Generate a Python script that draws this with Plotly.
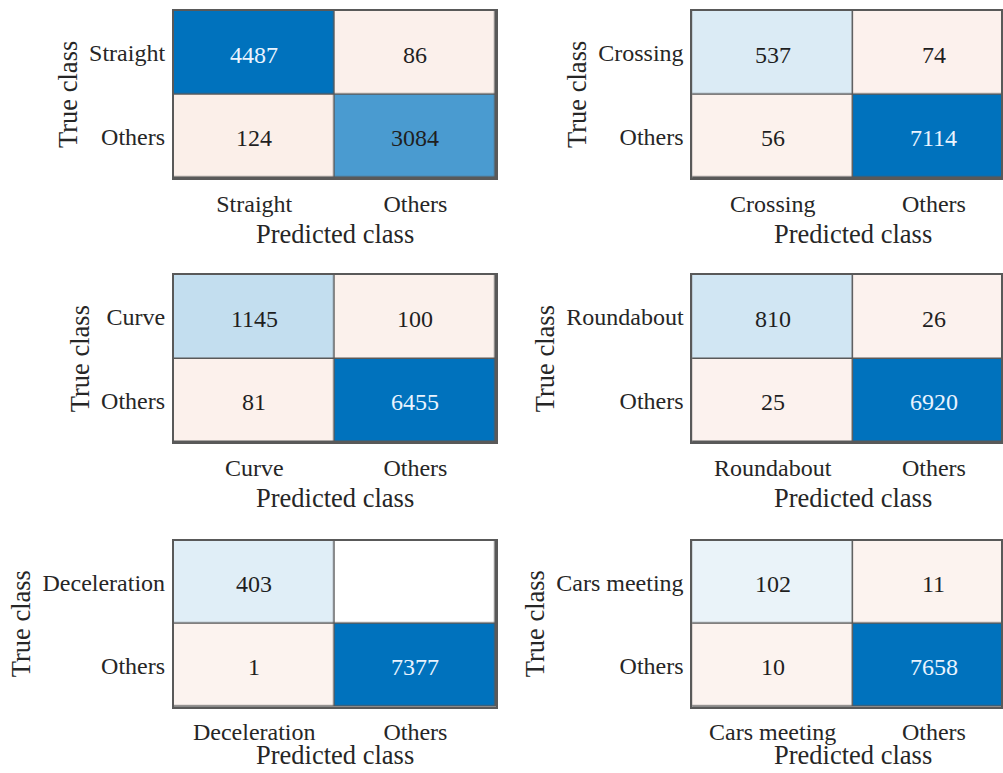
import plotly.graph_objects as go

# ---- data ----
classes = ["Straight", "Crossing", "Curve", "Roundabout", "Deceleration", "Cars meeting"]
other_label = "Others"
true_pos = [4487, 537, 1145, 810, 403, 102]      # true class, predicted class
false_neg = [86, 74, 100, 26, 0, 11]             # true class, predicted Others
false_pos = [124, 56, 81, 25, 1, 10]             # true Others, predicted class
true_neg = [3084, 7114, 6455, 6920, 7377, 7658]  # true Others, predicted Others

# ---- style ----
W, H = 1003, 773
FONT = "Liberation Serif, Times New Roman, serif"
TXT = "#262626"
BLUE = (0, 114, 189)
ORANGE = (217, 83, 25)
BORDER = "#595959"
MINF = 0.07


def blend(c, f):
    r, g, b = (round(255 * (1 - f) + ci * f) for ci in c)
    return f"rgb({r},{g},{b})"


def scale(c):
    return [[0, "white"], [1e-6, blend(c, MINF)], [1, blend(c, 1.0)]]


# panel geometry (pixels)
col_x = [(174, 497), (693.5, 1003)]
row_y = [(10.7, 178), (275, 442.3), (540.7, 706.7)]
cell_w = 161.5

fig = go.Figure()
layout = dict(
    width=W, height=H, margin=dict(l=0, r=0, t=0, b=0),
    paper_bgcolor="white", plot_bgcolor=BORDER, showlegend=False,
    font=dict(family=FONT, color=TXT),
)
annotations = []

for i, cls in enumerate(classes):
    r, c = divmod(i, 2)
    ax = "" if i == 0 else str(i + 1)
    xa, ya = "x" + ax, "y" + ax
    vals = [[true_pos[i], false_neg[i]], [false_pos[i], true_neg[i]]]
    vmax = max(max(row) for row in vals)
    diag = [[vals[0][0], None], [None, vals[1][1]]]
    off = [[None, vals[0][1]], [vals[1][0], None]]
    for z, col in ((diag, BLUE), (off, ORANGE)):
        fig.add_trace(go.Heatmap(
            z=z, x=[0, 1], y=[0, 1], colorscale=scale(col), zmin=0, zmax=vmax,
            showscale=False, xgap=1.5, ygap=1.5, hoverinfo="skip",
            xaxis=xa, yaxis=ya))
    # cell counts (omitted for empty cells)
    for rr in range(2):
        for cc in range(2):
            v = vals[rr][cc]
            if v == 0:
                continue
            colr = "#EAF4FF" if (rr == cc and v / vmax > 0.8) else "#1f1f1f"
            annotations.append(dict(
                text=str(v), xref=xa, yref=ya, x=cc, y=rr,
                xanchor="center", yanchor="middle", yshift=-2,
                showarrow=False, font=dict(family=FONT, size=24, color=colr)))

    x0, x1 = col_x[c]
    y0, y1 = row_y[r]
    xmax = -0.5 + (x1 - x0) / cell_w
    layout["xaxis" + ax] = dict(
        domain=[x0 / W, x1 / W], range=[-0.5, xmax], anchor=ya,
        tickvals=[0, 1], ticktext=[cls, other_label], ticks="",
        ticklabelstandoff=3, showgrid=False, zeroline=False,
        showline=True, mirror=True, linecolor=BORDER, linewidth=1.5,
        tickfont=dict(family=FONT, size=24, color=TXT),
        fixedrange=True,
    )
    layout["yaxis" + ax] = dict(
        domain=[1 - y1 / H, 1 - y0 / H], range=[1.5, -0.5], anchor=xa,
        tickvals=[0, 1], ticktext=[cls, other_label], ticks="",
        ticklabelstandoff=2, showgrid=False, zeroline=False,
        showline=True, mirror=True, linecolor=BORDER, linewidth=1.5,
        tickfont=dict(family=FONT, size=24, color=TXT),
        title=dict(text="True class", standoff=4,
                   font=dict(family=FONT, size=26.5, color=TXT)),
        fixedrange=True,
    )
    # x-axis title ("Predicted class") centred on the two-cell block
    ty = min(y1 + 56, H - 18)
    annotations.append(dict(
        text="Predicted class", xref="paper", yref="paper",
        x=(x0 + cell_w) / W, y=1 - ty / H,
        xanchor="center", yanchor="middle", showarrow=False,
        font=dict(family=FONT, size=26.5, color=TXT)))

layout["annotations"] = annotations
fig.update_layout(**layout)
fig.write_html("out.html")
